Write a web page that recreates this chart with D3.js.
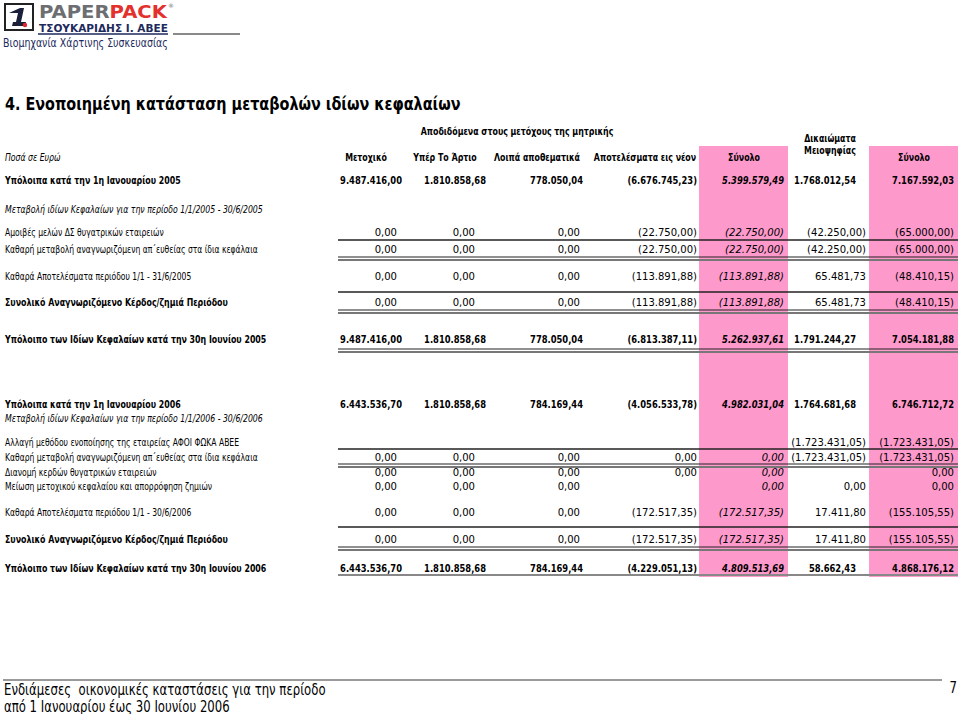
<!DOCTYPE html>
<html><head><meta charset="utf-8">
<script src="https://cdn.jsdelivr.net/npm/d3@7"></script>
<style>html,body{margin:0;padding:0;background:#fff;} svg{display:block} text{white-space:pre}</style>
</head><body><svg id="c" width="960" height="714"></svg>
<script>
// ---------------- DATA ----------------
const titleText = "4. Ενοποιημένη κατάσταση μεταβολών ιδίων κεφαλαίων";
const groupHeader = "Αποδιδόμενα στους μετόχους της μητρικής";
const unitLabel = "Ποσά σε Ευρώ";
const columnHeaders = [["Μετοχικό"], ["Υπέρ Το Άρτιο"], ["Λοιπά αποθεματικά"], ["Αποτελέσματα εις νέον"], ["Σύνολο"], ["Δικαιώματα", "Μειοψηφίας"], ["Σύνολο"]];
const rowLabels = [
  "Υπόλοιπα κατά την 1η Ιανουαρίου 2005",
  "Μεταβολή ιδίων Κεφαλαίων για την περίοδο 1/1/2005 - 30/6/2005",
  "Αμοιβές μελών ΔΣ θυγατρικών εταιρειών",
  "Καθαρή μεταβολή αναγνωριζόμενη απ΄ευθείας στα ίδια κεφάλαια",
  "Καθαρά Αποτελέσματα περιόδου 1/1 - 31/6/2005",
  "Συνολικό Αναγνωριζόμενο Κέρδος/ζημιά Περιόδου",
  "Υπόλοιπο των Ιδίων Κεφαλαίων κατά την 30η Ιουνίου 2005",
  "Υπόλοιπα κατά την 1η Ιανουαρίου 2006",
  "Μεταβολή ιδίων Κεφαλαίων για την περίοδο 1/1/2006 - 30/6/2006",
  "Αλλαγή μεθόδου ενοποίησης της εταιρείας ΑΦΟΙ ΦΩΚΑ ΑΒΕΕ",
  "Καθαρή μεταβολή αναγνωριζόμενη απ΄ευθείας στα ίδια κεφάλαια",
  "Διανομή κερδών θυγατρικών εταιρειών",
  "Μείωση μετοχικού κεφαλαίου και απορρόφηση ζημιών",
  "Καθαρά Αποτελέσματα περιόδου 1/1 - 30/6/2006",
  "Συνολικό Αναγνωριζόμενο Κέρδος/ζημιά Περιόδου",
  "Υπόλοιπο των Ιδίων Κεφαλαίων κατά την 30η Ιουνίου 2006"
];
const metoxiko      = [9487416.00, null, 0, 0, 0, 0, 9487416.00, 6443536.70, null, null, 0, 0, 0, 0, 0, 6443536.70];
const yperArtio     = [1810858.68, null, 0, 0, 0, 0, 1810858.68, 1810858.68, null, null, 0, 0, 0, 0, 0, 1810858.68];
const loipaApoth    = [778050.04, null, 0, 0, 0, 0, 778050.04, 784169.44, null, null, 0, 0, 0, 0, 0, 784169.44];
const apotelesmata  = [-6676745.23, null, -22750.00, -22750.00, -113891.88, -113891.88, -6813387.11, -4056533.78, null, null, 0, 0, null, -172517.35, -172517.35, -4229051.13];
const synoloMitr    = [5399579.49, null, -22750.00, -22750.00, -113891.88, -113891.88, 5262937.61, 4982031.04, null, null, 0, 0, 0, -172517.35, -172517.35, 4809513.69];
const meiopsifia    = [1768012.54, null, -42250.00, -42250.00, 65481.73, 65481.73, 1791244.27, 1764681.68, null, -1723431.05, -1723431.05, null, 0, 17411.80, 17411.80, 58662.43];
const synoloOliko   = [7167592.03, null, -65000.00, -65000.00, -48410.15, -48410.15, 7054181.88, 6746712.72, null, -1723431.05, -1723431.05, 0, 0, -155105.55, -155105.55, 4868176.12];
const footerLines = ["Ενδιάμεσες  οικονομικές καταστάσεις για την περίοδο", "από 1 Ιανουαρίου έως 30 Ιουνίου 2006"];
const pageNumber = "7";

const series = [metoxiko, yperArtio, loipaApoth, apotelesmata, synoloMitr, meiopsifia, synoloOliko];

// ---------------- LAYOUT / STYLE ----------------
const rowKind = ['total','section','item','item','item','subtotal','total','total','section','item','item','item','item','item','subtotal','total'];
const rowCenter = d3.scaleOrdinal().domain(d3.range(rowLabels.length))
  .range([180,209,232,249,276,302,339,404,418,442,457,472,486,512,539,568]);
const colCenter = d3.scaleOrdinal().domain(d3.range(7)).range([366,445,537,645,744,830,914]);
const colRightReg = d3.scaleOrdinal().domain(d3.range(7)).range([397,475,580,697,784,866,954]);
const colRightBold = d3.scaleOrdinal().domain(d3.range(7)).range([402,486,583,697,784,856,954]);
const pinkCols = [[699,788],[869,958]];
const pinkY = [146, 577];
const ruleX = [338, 958];
const rules = [
  {r:2, at:'below', d:8, t:'single'}, {r:3, at:'below', d:8, t:'double'},
  {r:5, at:'above', d:10, t:'single'}, {r:5, at:'below', d:8, t:'double'},
  {r:6, at:'below', d:10, t:'double'},
  {r:9, at:'below', d:7, t:'single'}, {r:10, at:'below', d:7, t:'double'},
  {r:14, at:'above', d:12, t:'single'}, {r:14, at:'below', d:8, t:'double'},
  {r:15, at:'below', d:7, t:'grey'}
];

const FF = "'DejaVu Sans', Verdana, sans-serif";
const S = {
  title: {fw:700, fst:'normal', fs:18, ref:[titleText, 456]},
  bold:  {fw:700, fst:'normal', fs:11, ref:["Υπόλοιπα κατά την 1η Ιανουαρίου 2005", 176]},
  reg:   {fw:400, fst:'normal', fs:11, ref:["Καθαρή μεταβολή αναγνωριζόμενη απ΄ευθείας στα ίδια κεφάλαια", 253]},
  ital:  {fw:400, fst:'italic', fs:11, ref:["Μεταβολή ιδίων Κεφαλαίων για την περίοδο 1/1/2005 - 30/6/2005", 258]},
  num:   {fw:400, fst:'normal', fs:11, ref:["(42.250,00)", 59]},
  numI:  {fw:400, fst:'italic', fs:11, ref:["(42.250,00)", 59]},
  numB:  {fw:700, fst:'normal', fs:11, ref:["9.487.416,00", 62]},
  numBI: {fw:700, fst:'italic', fs:11, ref:["9.487.416,00", 62]},
  foot:  {fw:400, fst:'normal', fs:15, ref:[footerLines[0], 322]},
  tag:   {fw:400, fst:'normal', fs:11.5, ref:["Βιομηχανία Χάρτινης Συσκευασίας", 165]},
  logo1: {fw:700, fst:'normal', fs:16, ref:["PAPERPACK", 128]},
  logo2: {fw:700, fst:'normal', fs:11, ref:["ΤΣΟΥΚΑΡΙΔΗΣ Ι. ΑΒΕΕ", 129]}
};

const svg = d3.select('#c');
const probe = svg.append('text').style('font-family', FF);
Object.values(S).forEach(st => {
  probe.style('font-weight', st.fw).style('font-style', st.fst).style('font-size', st.fs + 'px').text(st.ref[0]);
  const w = probe.node().getComputedTextLength();
  st.k = w > 0 ? st.ref[1] / w : 1;
});
probe.remove();

function txt(g, cls, str, x, y, anchor, fill, ky) {
  const st = S[cls];
  return g.append('text')
    .attr('transform', `translate(${x},${y}) scale(${st.k},${ky || 1})`)
    .attr('text-anchor', anchor || 'start')
    .style('font-family', FF).style('font-weight', st.fw).style('font-style', st.fst)
    .style('font-size', st.fs + 'px').attr('fill', fill || '#000').text(str);
}

const loc = d3.formatLocale({decimal: ",", thousands: ".", grouping: [3], currency: ["", "€"]});
const f2 = loc.format(",.2f");
const fmt = v => v < 0 ? "(" + f2(-v) + ")" : f2(v);

// ---------------- LOGO ----------------
const logo = svg.append('g');
logo.append('rect').attr('x', 5).attr('y', 4).attr('width', 28).attr('height', 26)
  .attr('fill', '#fff').attr('stroke', '#222').attr('stroke-width', 2);
logo.append('path').attr('d', 'M9,13 L20,8 L24,8 L21,22 L26,22 L25,26 L12,26 L13,22 L16,22 L18,13 Z').attr('fill', '#1a1f3a');
logo.append('circle').attr('cx', 25).attr('cy', 25).attr('r', 2.2).attr('fill', '#e2262b');
const l1 = txt(logo, 'logo1', '', 39, 17.5, 'start', null, 1.15);
l1.append('tspan').attr('fill', '#6d6e71').text('PAPER');
l1.append('tspan').attr('fill', '#e3312d').text('PACK');
logo.append('text').attr('x', 168).attr('y', 8).style('font-family', FF).style('font-size', '6px').attr('fill', '#6d6e71').text('®');
txt(logo, 'logo2', 'ΤΣΟΥΚΑΡΙΔΗΣ Ι. ΑΒΕΕ', 39, 32, 'start', '#1d2a5d');
logo.append('line').attr('x1', 38).attr('x2', 168).attr('y1', 34).attr('y2', 34).attr('stroke', '#1d2a5d').attr('stroke-width', 1.5);
logo.append('line').attr('x1', 173).attr('x2', 240).attr('y1', 34).attr('y2', 34).attr('stroke', '#8a8a8a').attr('stroke-width', 2);
txt(logo, 'tag', 'Βιομηχανία Χάρτινης Συσκευασίας', 3, 47, 'start', '#1d2a5d');

// ---------------- TITLE ----------------
txt(svg, 'title', titleText, 5, 110);

// ---------------- PINK COLUMNS ----------------
svg.append('g').selectAll('rect').data(pinkCols).join('rect')
  .attr('x', d => d[0]).attr('width', d => d[1] - d[0])
  .attr('y', pinkY[0]).attr('height', pinkY[1] - pinkY[0]).attr('fill', '#fd99cb');

// ---------------- HEADERS ----------------
const hg = svg.append('g');
txt(hg, 'bold', groupHeader, 517, 135, 'middle');
txt(hg, 'ital', unitLabel, 5, 161);
columnHeaders.forEach((lines, i) => {
  if (lines.length === 1) txt(hg, 'bold', lines[0], colCenter(i), 161, 'middle');
  else lines.forEach((s, j) => txt(hg, 'bold', s, colCenter(i), 142 + j * 12, 'middle'));
});

// ---------------- RULES ----------------
const rg = svg.append('g');
rules.forEach(ru => {
  const y = rowCenter(ru.r) + (ru.at === 'below' ? ru.d : -ru.d);
  if (ru.t === 'single') {
    rg.append('line').attr('x1', ruleX[0]).attr('x2', ruleX[1]).attr('y1', y).attr('y2', y).attr('stroke', '#222').attr('stroke-width', 1.4);
  } else if (ru.t === 'double') {
    rg.append('line').attr('x1', ruleX[0]).attr('x2', ruleX[1]).attr('y1', y).attr('y2', y).attr('stroke', '#222').attr('stroke-width', 1.2);
    rg.append('line').attr('x1', ruleX[0]).attr('x2', ruleX[1]).attr('y1', y + 3).attr('y2', y + 3).attr('stroke', '#777').attr('stroke-width', 2);
  } else {
    rg.append('line').attr('x1', ruleX[0]).attr('x2', ruleX[1]).attr('y1', y).attr('y2', y).attr('stroke', '#888').attr('stroke-width', 2);
  }
});

// ---------------- ROWS ----------------
const bodyG = svg.append('g');
rowLabels.forEach((lab, r) => {
  const kind = rowKind[r];
  const y = rowCenter(r) + 4;
  const lcls = kind === 'total' || kind === 'subtotal' ? 'bold' : kind === 'section' ? 'ital' : 'reg';
  txt(bodyG, lcls, lab, 5, y);
  series.forEach((col, c) => {
    const v = col[r];
    if (v == null) return;
    const isBold = kind === 'total';
    const isItal = c === 4;
    const cls = isBold ? (isItal ? 'numBI' : 'numB') : (isItal ? 'numI' : 'num');
    const x = isBold ? colRightBold(c) : colRightReg(c);
    txt(bodyG, cls, fmt(v), x, y, 'end');
  });
});

// ---------------- FOOTER ----------------
const fg = svg.append('g');
fg.append('line').attr('x1', 3).attr('x2', 942).attr('y1', 680).attr('y2', 680).attr('stroke', '#9a9a9a').attr('stroke-width', 2);
footerLines.forEach((s, i) => txt(fg, 'foot', s, 4, 695 + i * 17));
txt(fg, 'foot', pageNumber, 957, 693, 'end');
</script></body></html>
